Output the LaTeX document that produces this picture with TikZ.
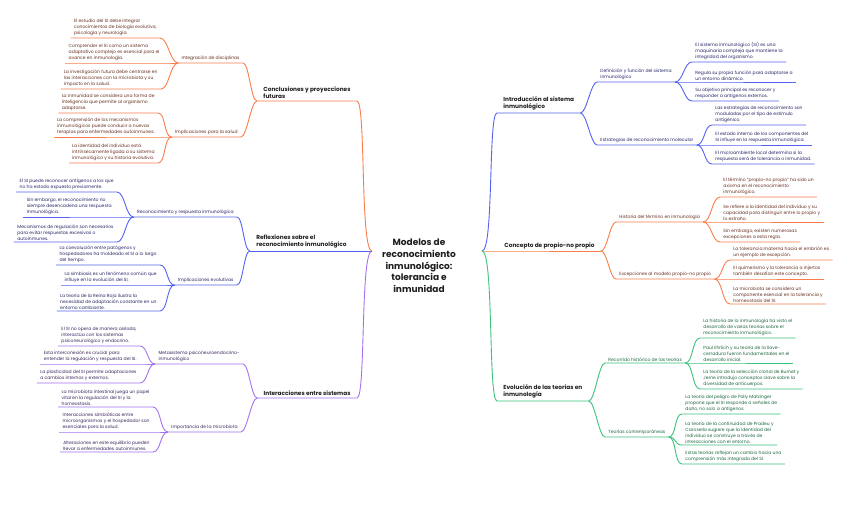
\documentclass[tikz,border=0pt]{standalone}
\usepackage{fontspec}
\setmainfont{Poppins}
\usepackage{xcolor}
\usepackage{tikz}
\usetikzlibrary{arrows.meta,positioning}
\definecolor{mmorange}{RGB}{250,125,75}
\definecolor{mmblue}{RGB}{85,100,240}
\definecolor{mmpurple}{RGB}{165,115,240}
\definecolor{mmgreen}{RGB}{60,195,125}
\definecolor{txorange}{RGB}{105,50,35}
\definecolor{txblue}{RGB}{40,40,105}
\definecolor{txpurple}{RGB}{60,40,95}
\definecolor{txgreen}{RGB}{30,105,65}
\definecolor{txdark}{RGB}{30,30,30}
\newcommand{\leaffont}{\fontsize{4.5}{6}\selectfont}
\newcommand{\branchfont}{\bfseries\fontsize{5.8}{7.5}\selectfont}
\newcommand{\rootfont}{\bfseries\fontsize{9}{11.7}\selectfont}

\begin{document}
\begin{tikzpicture}[x=1pt,y=-1pt,line width=0.9pt,
  leafL/.style={anchor=south east,align=left,font=\leaffont,inner xsep=3pt,inner ysep=1.5pt},
  leafR/.style={anchor=south west,align=left,font=\leaffont,inner xsep=3pt,inner ysep=1.5pt},
  branchL/.style={anchor=south east,align=left,font=\branchfont,text=txdark,inner xsep=6pt,inner ysep=2pt},
  branchR/.style={anchor=south west,align=left,font=\branchfont,text=txdark,inner xsep=6pt,inner ysep=2pt}]
\useasboundingbox[fill=white] (0,0) rectangle (848,522);

% centre
\node[align=center,font=\rootfont,text=txdark] (root) at (419,266) {Modelos de\\reconocimiento\\inmunológico:\\tolerancia e\\inmunidad};
\coordinate (rootL) at (372,251);
\coordinate (rootR) at (482,251);

% ---- left: conclusiones (orange)
\node[branchL] (conc) at (357,101) {Conclusiones y proyecciones\\futuras};
\node[leafL,text=txorange] (integ) at (243,63) {Integración de disciplinas};
\node[leafL,text=txorange] (salud) at (241,137) {Implicaciones para la salud};
\node[leafL,text=txorange] (integA) at (160,38) {El estudio del SI debe integrar\\conocimientos de biología evolutiva,\\psicología y neurología.};
\node[leafL,text=txorange] (integB) at (163,63) {Comprender el SI como un sistema\\adaptativo complejo es esencial para el\\avance en inmunología.};
\node[leafL,text=txorange] (integC) at (161,89) {La investigación futura debe centrarse en\\las interacciones con la microbiota y su\\impacto en la salud.};
\node[leafL,text=txorange] (saludA) at (158,113) {La inmunidad se considera una forma de\\inteligencia que permite al organismo\\adaptarse.};
\node[leafL,text=txorange] (saludB) at (158,137) {La comprensión de los mecanismos\\inmunológicos puede conducir a nuevas\\terapias para enfermedades autoinmunes.};
\node[leafL,text=txorange] (saludC) at (158,163) {La identidad del individuo está\\intrínsecamente ligada a su sistema\\inmunológico y su historia evolutiva.};
\draw[mmorange] (conc.south west) -- (conc.south east) .. controls +(9,0) and +(-12,0) .. (rootL);
\draw[mmorange] (integ.south west) -- (integ.south east) .. controls +(6,0) and +(-6,0) .. (conc.south west);
\draw[mmorange] (salud.south west) -- (salud.south east) .. controls +(6,0) and +(-6,0) .. (conc.south west);
\draw[mmorange] (integA.south west) -- (integA.south east) .. controls +(8,0) and +(-8,0) .. (integ.south west);
\draw[mmorange] (integB.south west) -- (integB.south east) .. controls +(8,0) and +(-8,0) .. (integ.south west);
\draw[mmorange] (integC.south west) -- (integC.south east) .. controls +(8,0) and +(-8,0) .. (integ.south west);
\draw[mmorange] (saludA.south west) -- (saludA.south east) .. controls +(8,0) and +(-8,0) .. (salud.south west);
\draw[mmorange] (saludB.south west) -- (saludB.south east) .. controls +(8,0) and +(-8,0) .. (salud.south west);
\draw[mmorange] (saludC.south west) -- (saludC.south east) .. controls +(8,0) and +(-8,0) .. (salud.south west);

% ---- left: reflexiones (blue)
\node[branchL] (refl) at (353,251) {Reflexiones sobre el\\reconocimiento inmunológico};
\node[leafL,text=txblue] (recon) at (237,217) {Reconocimiento y respuesta inmunológica};
\node[leafL,text=txblue] (evol) at (237,285) {Implicaciones evolutivas};
\node[leafL,text=txblue] (reconA) at (117,192) {El SI puede reconocer antígenos a los que\\no ha estado expuesto previamente.};
\node[leafL,text=txblue] (reconB) at (115,217) {Sin embargo, el reconocimiento no\\siempre desencadena una respuesta\\inmunológica.};
\node[leafL,text=txblue] (reconC) at (117,242) {Mecanismos de regulación son necesarios\\para evitar respuestas excesivas o\\autoinmunes.};
\node[leafL,text=txblue] (evolA) at (160,265) {La coevolución entre patógenos y\\hospedadores ha moldeado el SI a lo largo\\del tiempo.};
\node[leafL,text=txblue] (evolB) at (160,285) {La simbiosis es un fenómeno común que\\influye en la evolución del SI.};
\node[leafL,text=txblue] (evolC) at (160,311) {La teoría de la Reina Roja ilustra la\\necesidad de adaptación constante en un\\entorno cambiante.};
\draw[mmblue] (refl.south west) -- (rootL);
\draw[mmblue] (recon.south west) -- (recon.south east) .. controls +(6,0) and +(-6,0) .. (refl.south west);
\draw[mmblue] (evol.south west) -- (evol.south east) .. controls +(6,0) and +(-6,0) .. (refl.south west);
\draw[mmblue] (reconA.south west) -- (reconA.south east) .. controls +(8,0) and +(-8,0) .. (recon.south west);
\draw[mmblue] (reconB.south west) -- (reconB.south east) .. controls +(8,0) and +(-8,0) .. (recon.south west);
\draw[mmblue] (reconC.south west) -- (reconC.south east) .. controls +(8,0) and +(-8,0) .. (recon.south west);
\draw[mmblue] (evolA.south west) -- (evolA.south east) .. controls +(8,0) and +(-8,0) .. (evol.south west);
\draw[mmblue] (evolB.south west) -- (evolB.south east) .. controls +(8,0) and +(-8,0) .. (evol.south west);
\draw[mmblue] (evolC.south west) -- (evolC.south east) .. controls +(8,0) and +(-8,0) .. (evol.south west);

% ---- left: interacciones (purple)
\node[branchL] (inter) at (357,398) {Interacciones entre sistemas};
\node[leafL,text=txpurple] (meta) at (243,364) {Metasistema psiconeuroendocrino-\\inmunológico};
\node[leafL,text=txpurple] (micro) at (241,432) {Importancia de la microbiota};
\node[leafL,text=txpurple] (metaA) at (140,346) {El SI no opera de manera aislada,\\interactúa con los sistemas\\psiconeurológico y endocrino.};
\node[leafL,text=txpurple] (metaB) at (140,364) {Esta interconexión es crucial para\\entender la regulación y respuesta del SI.};
\node[leafL,text=txpurple] (metaC) at (140,383) {La plasticidad del SI permite adaptaciones\\a cambios internos y externos.};
\node[leafL,text=txpurple] (microA) at (153,407) {La microbiota intestinal juega un papel\\vital en la regulación del SI y la\\homeostasis.};
\node[leafL,text=txpurple] (microB) at (153,432) {Interacciones simbióticas entre\\microorganismos y el hospedador son\\esenciales para la salud.};
\node[leafL,text=txpurple] (microC) at (153,452) {Alteraciones en este equilibrio pueden\\llevar a enfermedades autoinmunes.};
\draw[mmpurple] (inter.south west) -- (inter.south east) .. controls +(9,0) and +(-12,0) .. (rootL);
\draw[mmpurple] (meta.south west) -- (meta.south east) .. controls +(6,0) and +(-6,0) .. (inter.south west);
\draw[mmpurple] (micro.south west) -- (micro.south east) .. controls +(6,0) and +(-6,0) .. (inter.south west);
\draw[mmpurple] (metaA.south west) -- (metaA.south east) .. controls +(8,0) and +(-8,0) .. (meta.south west);
\draw[mmpurple] (metaB.south west) -- (metaB.south east) .. controls +(8,0) and +(-8,0) .. (meta.south west);
\draw[mmpurple] (metaC.south west) -- (metaC.south east) .. controls +(8,0) and +(-8,0) .. (meta.south west);
\draw[mmpurple] (microA.south west) -- (microA.south east) .. controls +(8,0) and +(-8,0) .. (micro.south west);
\draw[mmpurple] (microB.south west) -- (microB.south east) .. controls +(8,0) and +(-8,0) .. (micro.south west);
\draw[mmpurple] (microC.south west) -- (microC.south east) .. controls +(8,0) and +(-8,0) .. (micro.south west);

% ---- right: introduccion (blue)
\node[branchR] (intro) at (497,113) {Introducción al sistema\\inmunológico};
\node[leafR,text=txblue] (defin) at (597,82) {Definición y función del sistema\\inmunológico};
\node[leafR,text=txblue] (estra) at (597,145) {Estrategias de reconocimiento molecular};
\node[leafR,text=txblue] (definA) at (692,62) {El sistema inmunológico (SI) es una\\maquinaria compleja que mantiene la\\integridad del organismo.};
\node[leafR,text=txblue] (definB) at (692,82) {Regula su propia función para adaptarse a\\un entorno dinámico.};
\node[leafR,text=txblue] (definC) at (692,101) {Su objetivo principal es reconocer y\\responder a antígenos externos.};
\node[leafR,text=txblue] (estraA) at (712,125) {Las estrategias de reconocimiento son\\moduladas por el tipo de estímulo\\antigénico.};
\node[leafR,text=txblue] (estraB) at (712,145) {El estado interno de los componentes del\\SI influye en la respuesta inmunológica.};
\node[leafR,text=txblue] (estraC) at (712,164) {El microambiente local determina si la\\respuesta será de tolerancia o inmunidad.};
\draw[mmblue] (rootR) .. controls +(12,0) and +(-9,0) .. (intro.south west) -- (intro.south east);
\draw[mmblue] (intro.south east) .. controls +(6,0) and +(-6,0) .. (defin.south west) -- (defin.south east);
\draw[mmblue] (intro.south east) .. controls +(6,0) and +(-6,0) .. (estra.south west) -- (estra.south east);
\draw[mmblue] (defin.south east) .. controls +(8,0) and +(-8,0) .. (definA.south west) -- (definA.south east);
\draw[mmblue] (defin.south east) .. controls +(8,0) and +(-8,0) .. (definB.south west) -- (definB.south east);
\draw[mmblue] (defin.south east) .. controls +(8,0) and +(-8,0) .. (definC.south west) -- (definC.south east);
\draw[mmblue] (estra.south east) .. controls +(8,0) and +(-8,0) .. (estraA.south west) -- (estraA.south east);
\draw[mmblue] (estra.south east) .. controls +(8,0) and +(-8,0) .. (estraB.south west) -- (estraB.south east);
\draw[mmblue] (estra.south east) .. controls +(8,0) and +(-8,0) .. (estraC.south west) -- (estraC.south east);

% ---- right: propio-no propio (orange)
\node[branchR] (propio) at (498,251) {Concepto de propio-no propio};
\node[leafR,text=txorange] (hist) at (616,222) {Historia del término en inmunología};
\node[leafR,text=txorange] (excep) at (616,279) {Excepciones al modelo propio-no propio};
\node[leafR,text=txorange] (histA) at (720,197) {El término “propio-no propio” ha sido un\\axioma en el reconocimiento\\inmunológico.};
\node[leafR,text=txorange] (histB) at (720,222) {Se refiere a la identidad del individuo y su\\capacidad para distinguir entre lo propio y\\lo extraño.};
\node[leafR,text=txorange] (histC) at (720,242) {Sin embargo, existen numerosas\\excepciones a esta regla.};
\node[leafR,text=txorange] (excepA) at (730,260) {La tolerancia materna hacia el embrión es\\un ejemplo de excepción.};
\node[leafR,text=txorange] (excepB) at (730,279) {El quimerismo y la tolerancia a injertos\\también desafían este concepto.};
\node[leafR,text=txorange] (excepC) at (730,304) {La microbiota se considera un\\componente esencial en la tolerancia y\\homeostasis del SI.};
\draw[mmorange] (rootR) -- (propio.south west) -- (propio.south east);
\draw[mmorange] (propio.south east) .. controls +(6,0) and +(-6,0) .. (hist.south west) -- (hist.south east);
\draw[mmorange] (propio.south east) .. controls +(6,0) and +(-6,0) .. (excep.south west) -- (excep.south east);
\draw[mmorange] (hist.south east) .. controls +(8,0) and +(-8,0) .. (histA.south west) -- (histA.south east);
\draw[mmorange] (hist.south east) .. controls +(8,0) and +(-8,0) .. (histB.south west) -- (histB.south east);
\draw[mmorange] (hist.south east) .. controls +(8,0) and +(-8,0) .. (histC.south west) -- (histC.south east);
\draw[mmorange] (excep.south east) .. controls +(8,0) and +(-8,0) .. (excepA.south west) -- (excepA.south east);
\draw[mmorange] (excep.south east) .. controls +(8,0) and +(-8,0) .. (excepB.south west) -- (excepB.south east);
\draw[mmorange] (excep.south east) .. controls +(8,0) and +(-8,0) .. (excepC.south west) -- (excepC.south east);

% ---- right: evolucion (green)
\node[branchR] (teor) at (497,401) {Evolución de las teorías en\\inmunología};
\node[leafR,text=txgreen] (recor) at (605,363) {Recorrido histórico de las teorías};
\node[leafR,text=txgreen] (contem) at (605,437) {Teorías contemporáneas};
\node[leafR,text=txgreen] (recorA) at (700,338) {La historia de la inmunología ha visto el\\desarrollo de varias teorías sobre el\\reconocimiento inmunológico.};
\node[leafR,text=txgreen] (recorB) at (700,363) {Paul Ehrlich y su teoría de la llave-\\cerradura fueron fundamentales en el\\desarrollo inicial.};
\node[leafR,text=txgreen] (recorC) at (700,389) {La teoría de la selección clonal de Burnet y\\Jerne introdujo conceptos clave sobre la\\diversidad de anticuerpos.};
\node[leafR,text=txgreen] (contemA) at (682,414) {La teoría del peligro de Polly Matzinger\\propone que el SI responde a señales de\\daño, no solo a antígenos.};
\node[leafR,text=txgreen] (contemB) at (682,445) {La teoría de la continuidad de Pradeu y\\Carosella sugiere que la identidad del\\individuo se construye a través de\\interacciones con el entorno.};
\node[leafR,text=txgreen] (contemC) at (682,464) {Estas teorías reflejan un cambio hacia una\\comprensión más integrada del SI.};
\draw[mmgreen] (rootR) .. controls +(12,0) and +(-9,0) .. (teor.south west) -- (teor.south east);
\draw[mmgreen] (teor.south east) .. controls +(6,0) and +(-6,0) .. (recor.south west) -- (recor.south east);
\draw[mmgreen] (teor.south east) .. controls +(6,0) and +(-6,0) .. (contem.south west) -- (contem.south east);
\draw[mmgreen] (recor.south east) .. controls +(8,0) and +(-8,0) .. (recorA.south west) -- (recorA.south east);
\draw[mmgreen] (recor.south east) .. controls +(8,0) and +(-8,0) .. (recorB.south west) -- (recorB.south east);
\draw[mmgreen] (recor.south east) .. controls +(8,0) and +(-8,0) .. (recorC.south west) -- (recorC.south east);
\draw[mmgreen] (contem.south east) .. controls +(8,0) and +(-8,0) .. (contemA.south west) -- (contemA.south east);
\draw[mmgreen] (contem.south east) .. controls +(8,0) and +(-8,0) .. (contemB.south west) -- (contemB.south east);
\draw[mmgreen] (contem.south east) .. controls +(8,0) and +(-8,0) .. (contemC.south west) -- (contemC.south east);
\end{tikzpicture}
\end{document}
